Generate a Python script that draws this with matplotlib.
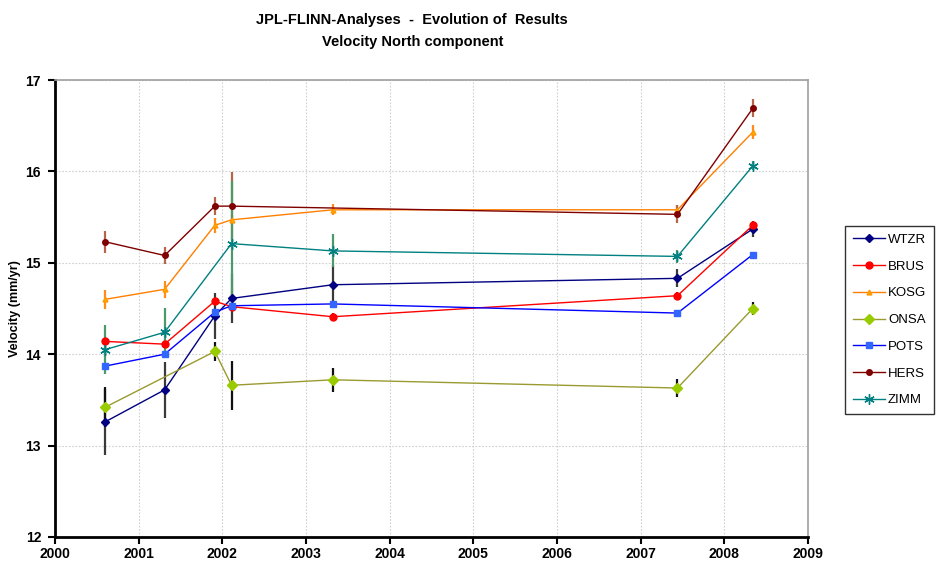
import numpy as np
import matplotlib
matplotlib.use("Agg")
import matplotlib.pyplot as plt

plt.rcParams['font.family'] = ['Liberation Sans', 'DejaVu Sans']

dates = [2000.6, 2001.31, 2001.91, 2002.11, 2003.32, 2007.44, 2008.34]
nan = np.nan

stations = ["WTZR", "BRUS", "KOSG", "ONSA", "POTS", "HERS", "ZIMM"]

wtzr = [13.26, 13.61, 14.42, 14.61, 14.76, 14.83, 15.37]
brus = [14.14, 14.11, 14.58, 14.52, 14.41, 14.64, 15.41]
kosg = [14.60, 14.71, 15.41, 15.47, 15.58, 15.58, 16.43]
onsa = [13.42, nan, 14.03, 13.66, 13.72, 13.63, 14.50]
pots = [13.87, 14.00, 14.46, 14.53, 14.55, 14.45, 15.09]
hers = [15.23, 15.08, 15.62, 15.62, nan, 15.53, 16.69]
zimm = [14.05, 14.24, nan, 15.21, 15.13, 15.07, 16.06]

wtzr_err = [0.36, 0.31, 0.25, 0.27, 0.22, 0.10, 0.09]
brus_err = [0.04, 0.04, 0.04, 0.04, 0.04, 0.04, 0.04]
kosg_err = [0.10, 0.09, 0.08, 0.05, 0.06, 0.05, 0.08]
onsa_err = [0.22, nan, 0.10, 0.27, 0.13, 0.10, 0.07]
pots_err = [0.03, 0.03, 0.03, 0.03, 0.03, 0.03, 0.03]
hers_err = [0.12, 0.09, 0.10, 0.37, nan, 0.10, 0.10]
zimm_err = [0.27, 0.27, nan, 0.68, 0.18, 0.07, 0.05]

values = [wtzr, brus, kosg, onsa, pots, hers, zimm]
errors = [wtzr_err, brus_err, kosg_err, onsa_err, pots_err, hers_err, zimm_err]

styles = {
    "WTZR": dict(color="#000080", marker="D", mfc="#000080", mec="#000080", ms=4.5, ecolor="#3a3a3a"),
    "BRUS": dict(color="#ff0000", marker="o", mfc="#ff0000", mec="#ff0000", ms=5, ecolor="#cc0000"),
    "KOSG": dict(color="#ff7f00", marker="^", mfc="#ffaa00", mec="#ff9900", ms=3.5, ecolor="#ff8c1a"),
    "ONSA": dict(color="#9a9a30", marker="D", mfc="#99cc00", mec="#99cc00", ms=5, ecolor="#111111"),
    "POTS": dict(color="#0000ff", marker="s", mfc="#3366ff", mec="#3366ff", ms=4.2, ecolor="#3366ff"),
    "HERS": dict(color="#800000", marker="o", mfc="#800000", mec="#800000", ms=4, ecolor="#b5654a"),
    "ZIMM": dict(color="#008080", marker=(6, 2, 0), mfc="#008080", mec="#008080", ms=7.5, ecolor="#4c9a6a"),
}

fig = plt.figure(figsize=(9.39, 5.67), dpi=100)
ax = fig.add_axes([55/939, 1-537/567, (808-55)/939, (537-80)/567])

x_all = np.array(dates)
handles = []
for name, v, e in zip(stations, values, errors):
    v = np.array(v, dtype=float)
    e = np.array(e, dtype=float)
    m = ~np.isnan(v)
    st = styles[name]
    ax.errorbar(x_all[m], v[m], yerr=e[m], fmt="none", ecolor=st["ecolor"],
                elinewidth=1.6, capsize=0, zorder=2)
    h, = ax.plot(x_all[m], v[m], color=st["color"], lw=1.0, marker=st["marker"],
                 mfc=st["mfc"], mec=st["mec"], ms=st["ms"], mew=1.0, zorder=3, label=name)
    handles.append(h)

ax.set_xlim(2000, 2009)
ax.set_ylim(12, 17)
ax.set_xticks(range(2000, 2010))
ax.set_yticks(range(12, 18))
ax.grid(True, color="#d0d0d0", linestyle=(0, (1.5, 1.5)), linewidth=0.8)
ax.set_axisbelow(True)

for s in ["top", "right"]:
    ax.spines[s].set_color("#a0a0a0")
    ax.spines[s].set_linewidth(1.2)
for s in ["left", "bottom"]:
    ax.spines[s].set_color("black")
    ax.spines[s].set_linewidth(2.0)

ax.tick_params(axis="both", direction="out", length=5, width=1.5, colors="black",
               labelsize=10)
ax.tick_params(axis="x", pad=2)
ax.tick_params(axis="y", pad=5)
for lbl in ax.get_xticklabels() + ax.get_yticklabels():
    lbl.set_fontweight("bold")

ax.set_ylabel("Velocity (mm/yr)", fontsize=9, fontweight="bold", labelpad=3)

fig.text(0.439, 1-20/567, "JPL-FLINN-Analyses  -  Evolution of  Results",
         ha="center", va="center", fontsize=10.5, fontweight="bold")
fig.text(0.439, 1-42/567, "Velocity North component",
         ha="center", va="center", fontsize=10.5, fontweight="bold")

leg = fig.legend(handles=handles, loc="center left",
                 bbox_to_anchor=(845/939, 1-320/567), fontsize=9.5,
                 frameon=True, fancybox=False, edgecolor="black",
                 handlelength=2.4, labelspacing=1.1, borderpad=0.6,
                 handletextpad=0.25, borderaxespad=0)
leg.get_frame().set_linewidth(1.0)

fig.savefig("out.png", dpi=100)
